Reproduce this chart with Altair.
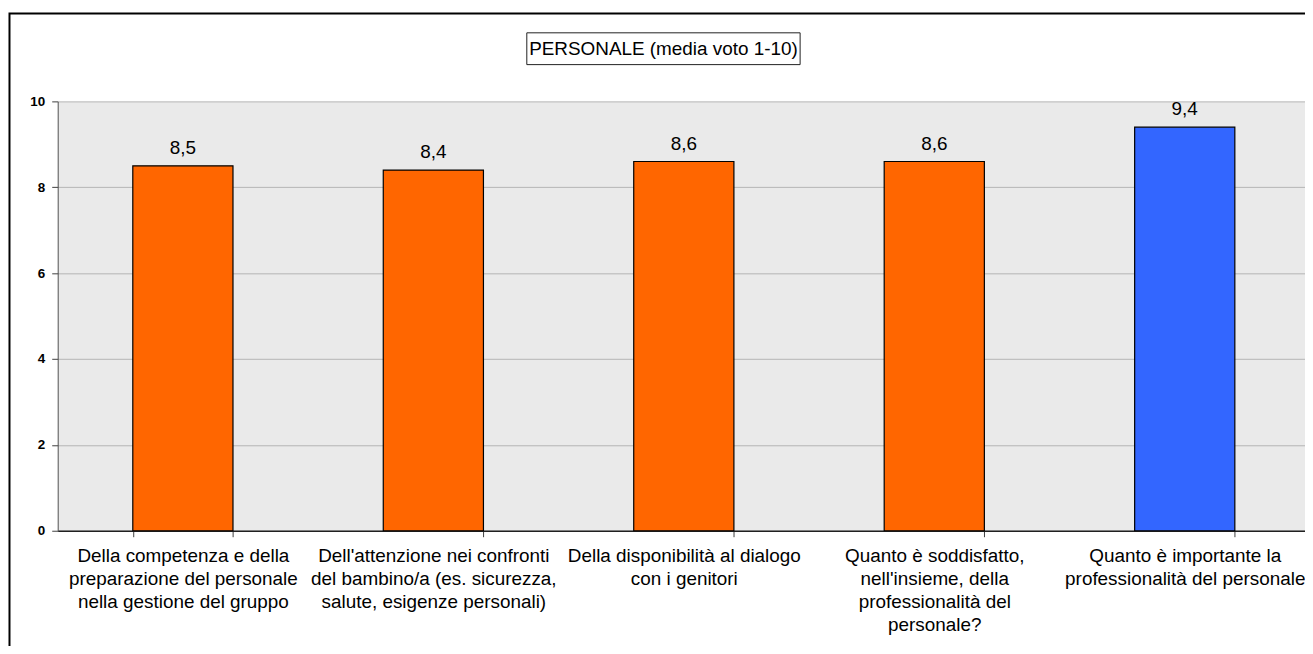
import altair as alt
import pandas as pd

title_text = "PERSONALE (media voto 1-10)"
categories = [
    "Della competenza e della\npreparazione del personale\nnella gestione del gruppo",
    "Dell'attenzione nei confronti\ndel bambino/a (es. sicurezza,\nsalute, esigenze personali)",
    "Della disponibilità al dialogo\ncon i genitori",
    "Quanto è soddisfatto,\nnell'insieme, della\nprofessionalità del\npersonale?",
    "Quanto è importante la\nprofessionalità del personale",
]
values = [8.5, 8.4, 8.6, 8.6, 9.4]
groups = ["soddisfazione", "soddisfazione", "soddisfazione", "soddisfazione", "importanza"]
y_ticks = [0, 2, 4, 6, 8, 10]

df = pd.DataFrame({"cat": categories, "v": values, "g": groups})

FONT = "Liberation Sans"

x_enc = alt.X(
    "cat:N",
    sort=categories,
    title=None,
    scale=alt.Scale(paddingInner=0.6, paddingOuter=0.29, align=0.517),
    axis=alt.Axis(
        labelAngle=0,
        labelExpr="split(datum.label, '\\n')",
        labelFont=FONT,
        labelFontSize=19,
        labelColor="black",
        labelLimit=400,
        labelLineHeight=23,
        labelPadding=10,
        tickBand="extent",
        tickSize=6,
        tickColor="#404040",
        domainColor="#202020",
        domainWidth=1.5,
        labelBaseline="top",
        grid=False,
    ),
)

y_enc = alt.Y(
    "v:Q",
    title=None,
    scale=alt.Scale(domain=[0, 10], nice=False),
    axis=alt.Axis(
        values=y_ticks,
        labelFont=FONT,
        labelFontSize=13.5,
        labelFontWeight="bold",
        labelColor="black",
        tickSize=6,
        tickColor="#404040",
        domainColor="#505050",
        labelPadding=7,
        gridColor="#B4B4B4",
        gridWidth=1,
    ),
)

bars = alt.Chart(df).mark_bar(stroke="black", strokeWidth=1.2).encode(
    x=x_enc,
    y=y_enc,
    color=alt.Color(
        "g:N",
        scale=alt.Scale(domain=["soddisfazione", "importanza"], range=["#FF6600", "#3366FF"]),
        legend=None,
    ),
)

labels = alt.Chart(df).transform_calculate(
    lab="replace(format(datum.v, '.1f'), '.', ',')"
).mark_text(
    font=FONT, fontSize=19, color="black", baseline="alphabetic", dy=-12
).encode(
    x=alt.X("cat:N", sort=categories),
    y="v:Q",
    text="lab:N",
)

tdf = pd.DataFrame({"t": [title_text]})
title_box = alt.Chart(tdf).mark_rect(fill="white", stroke="#202020", strokeWidth=1).encode(
    x=alt.value(472), x2=alt.value(747), y=alt.value(-69), y2=alt.value(-37)
)
title_txt = alt.Chart(tdf).mark_text(
    font=FONT, fontSize=19, color="black", baseline="alphabetic", align="center"
).encode(x=alt.value(609.5), y=alt.value(-47), text="t:N")

border = alt.Chart(tdf).mark_rect(fill="transparent", stroke="black", strokeWidth=2).encode(
    x=alt.value(-48.5), x2=alt.value(1400), y=alt.value(-88.5), y2=alt.value(700)
)

chart = alt.layer(border, bars, labels, title_box, title_txt).properties(
    width=1255,
    height=432,
    autosize=alt.AutoSizeParams(type="none"),
    padding={"left": 50, "top": 92, "right": 0, "bottom": 114},
    background="white",
).configure_view(fill="#EAEAEA", stroke="transparent")

chart.save("out.html", embed_options={"renderer": "svg", "actions": False})
